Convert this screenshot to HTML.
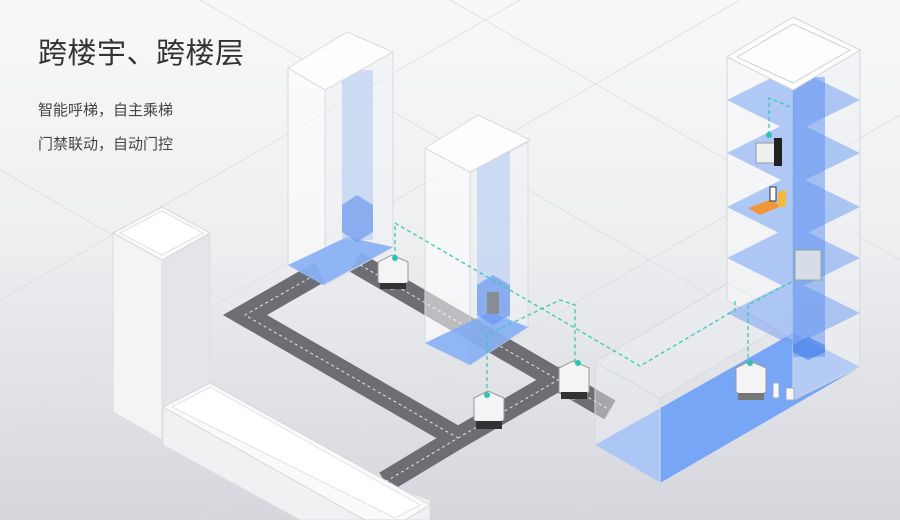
<!DOCTYPE html>
<html><head><meta charset="utf-8"><style>
html,body{margin:0;padding:0}
body{width:900px;height:520px;overflow:hidden;background:linear-gradient(180deg,#f8f8f9 0%,#eeeff1 45%,#d5d7dd 100%);position:relative;font-family:"Liberation Sans","Noto Sans CJK SC",sans-serif}
svg{position:absolute;left:0;top:0}
.t{position:absolute;left:38px;color:#333;white-space:nowrap}
</style></head><body>
<svg width="900" height="520" viewBox="0 0 900 520">
<g stroke="#dcdde2" stroke-width="0.8" fill="none">
<line x1="0" y1="170" x2="606" y2="520"/><line x1="200" y1="0" x2="900" y2="405"/><line x1="450" y1="0" x2="900" y2="260"/>
<line x1="0" y1="430" x2="740" y2="0"/><line x1="200" y1="520" x2="900" y2="115"/><line x1="0" y1="300" x2="520" y2="0"/>
</g>
<!-- roads -->
<g fill="none" stroke="#6c6e73" stroke-width="22" stroke-linejoin="miter">
<polyline points="320,272 245,315 458,438 385,482"/>
<polyline points="355,262 610,410"/>
<polyline points="458,438 565,376"/>
</g>
<g fill="none" stroke="#e6e6e6" stroke-width="1" stroke-dasharray="3,3">
<polyline points="320,272 245,315 458,438 385,482"/>
<polyline points="355,262 610,410"/>
<polyline points="458,438 565,376"/>
</g>
<!-- left white tower -->
<polygon points="113,233 162,260 162,440 113,412" fill="#f4f4f5" stroke="#dcdde0"/>
<polygon points="162,260 210,233 210,400 162,428" fill="#e4e5e8" stroke="#dcdde0"/>
<polygon points="113,233 162,207 210,233 162,260" fill="#fbfbfb" stroke="#d6d7da"/>
<polygon points="120,233 162,211 203,233 162,255" fill="#fff" stroke="#e0e0e2"/>
<!-- low long block -->
<polygon points="163,407 163,445 300,520 430,520 430,500" fill="#f1f1f3" stroke="#dcdde0"/>
<polygon points="163,407 210,383 430,505 405,520 365,520" fill="#fafafa" stroke="#d6d7da"/>
<polygon points="172,407 210,387 420,505 395,518" fill="#fff" stroke="#e2e2e4"/>
<!-- building 1 -->
<polygon points="288,68 325,90 325,285 288,265" fill="rgba(255,255,255,0.55)" stroke="#d8d9dd"/>
<polygon points="325,90 393,52 393,247 325,285" fill="rgba(240,241,245,0.5)" stroke="#d8d9dd"/>
<polygon points="288,265 347,237 393,247 323,285" fill="#7faaf5" opacity="0.85"/>
<rect x="342" y="70" width="31" height="170" fill="#a9c4f2" opacity="0.5"/>
<polygon points="342,205 357,195 373,205 373,232 357,242 342,232" fill="#5d90ee" opacity="0.6"/>
<polygon points="288,68 347,32 393,52 325,90" fill="#fdfdfd" stroke="#dadbde"/>
<!-- building 2 -->
<polygon points="425,148 470,172 470,365 425,343" fill="rgba(255,255,255,0.55)" stroke="#d8d9dd"/>
<polygon points="470,172 528,142 528,327 470,365" fill="rgba(240,241,245,0.5)" stroke="#d8d9dd"/>
<polygon points="425,343 490,312 528,327 470,365" fill="#7faaf5" opacity="0.85"/>
<rect x="477" y="150" width="33" height="170" fill="#a9c4f2" opacity="0.5"/>
<polygon points="477,285 493,275 510,285 510,315 493,325 477,315" fill="#5d90ee" opacity="0.6"/>
<rect x="487" y="292" width="12" height="22" fill="#888c94"/>
<polygon points="425,148 478,115 530,140 470,172" fill="#fdfdfd" stroke="#dadbde"/>
<!-- big low right block -->
<polygon points="595,445 793,333 860,367 660,483" fill="#78a6f7"/>
<polygon points="595,362 660,398 660,483 595,445" fill="rgba(235,238,245,0.45)" stroke="#d8d9dd"/>
<polygon points="595,362 728,283 793,320 660,398" fill="rgba(235,237,241,0.55)" stroke="#d8d9dd"/>
<!-- tall tower -->
<polygon points="727,57 793,90 793,340 727,300" fill="rgba(250,250,251,0.5)" stroke="#d6d7da"/>
<polygon points="793,90 860,50 860,367 793,400" fill="rgba(238,239,243,0.5)" stroke="#d6d7da"/>
<g fill="#6b9cf4" opacity="0.5">
<polygon points="727,100 793,67 860,100 793,133"/>
<polygon points="727,153 793,120 860,153 793,186"/>
<polygon points="727,207 793,174 860,207 793,240"/>
<polygon points="727,258 793,225 860,258 793,291"/>
<polygon points="727,313 793,280 860,313 793,346"/>
</g>
<rect x="793" y="77" width="32" height="280" fill="#5a8df0" opacity="0.5"/>
<polygon points="793,345 808,337 825,345 825,352 808,360 793,352" fill="#3f7be8" opacity="0.6"/>
<polygon points="727,57 793,17 860,50 793,90" fill="#fdfdfd" stroke="#d6d7da"/>
<polygon points="737,57 793,24 850,50 793,83" fill="none" stroke="#cfd0d3"/>
<!-- dashed links -->
<g fill="none" stroke="#3cc8b4" stroke-width="1.3" stroke-dasharray="4,3">
<polyline points="395,258 395,223 640,366 735,310 735,300"/>
<polyline points="487,395 487,335 560,300 575,305 575,363"/>
<polyline points="748,365 748,305 795,280"/>
<polyline points="769,135 769,98 793,108"/>
</g>
<!-- robots -->
<g>
<polygon points="378,262 392,255 408,262 408,282 392,290 378,282" fill="#f4f4f4" stroke="#999"/>
<rect x="380" y="283" width="26" height="6" fill="#333"/>
<circle cx="395" cy="258" r="3" fill="#2ec4ae"/>
<polygon points="474,398 488,391 504,398 504,420 488,428 474,420" fill="#f4f4f4" stroke="#999"/>
<rect x="476" y="421" width="26" height="8" fill="#333"/>
<circle cx="487" cy="395" r="3" fill="#2ec4ae"/>
<polygon points="559,368 573,361 589,368 589,392 573,400 559,392" fill="#f4f4f4" stroke="#999"/>
<rect x="561" y="392" width="26" height="7" fill="#333"/>
<circle cx="578" cy="363" r="3" fill="#2ec4ae"/>
<polygon points="736,368 750,361 766,368 766,392 750,400 736,392" fill="#f4f4f4" stroke="#999"/>
<rect x="738" y="393" width="26" height="7" fill="#777"/>
<circle cx="750" cy="363" r="3" fill="#2ec4ae"/>
<rect x="773" y="383" width="6" height="15" fill="#f6f6f6" stroke="#9ab"/>
<rect x="786" y="388" width="8" height="12" fill="#f6f6f6" stroke="#9ab"/>
<rect x="795" y="250" width="26" height="30" fill="#d7dde8" stroke="#8a9"/>
<rect x="756" y="143" width="22" height="20" fill="#eee" stroke="#999"/>
<rect x="774" y="138" width="8" height="28" fill="#222"/>
<circle cx="769" cy="135" r="3" fill="#2ec4ae"/>
<polygon points="748,208 770,200 782,206 760,215" fill="#f2963a"/>
<rect x="770" y="187" width="6" height="14" fill="#fff" stroke="#333"/>
<polygon points="778,192 786,190 786,206 778,208" fill="#f5b942"/>
</g>
</svg>
<div class="t" style="top:30px;font-size:29px;letter-spacing:0.5px">跨楼宇、跨楼层</div>
<div class="t" style="top:99px;font-size:15px;color:#444">智能呼梯，自主乘梯</div>
<div class="t" style="top:133px;font-size:15px;color:#444">门禁联动，自动门控</div>
</body></html>
